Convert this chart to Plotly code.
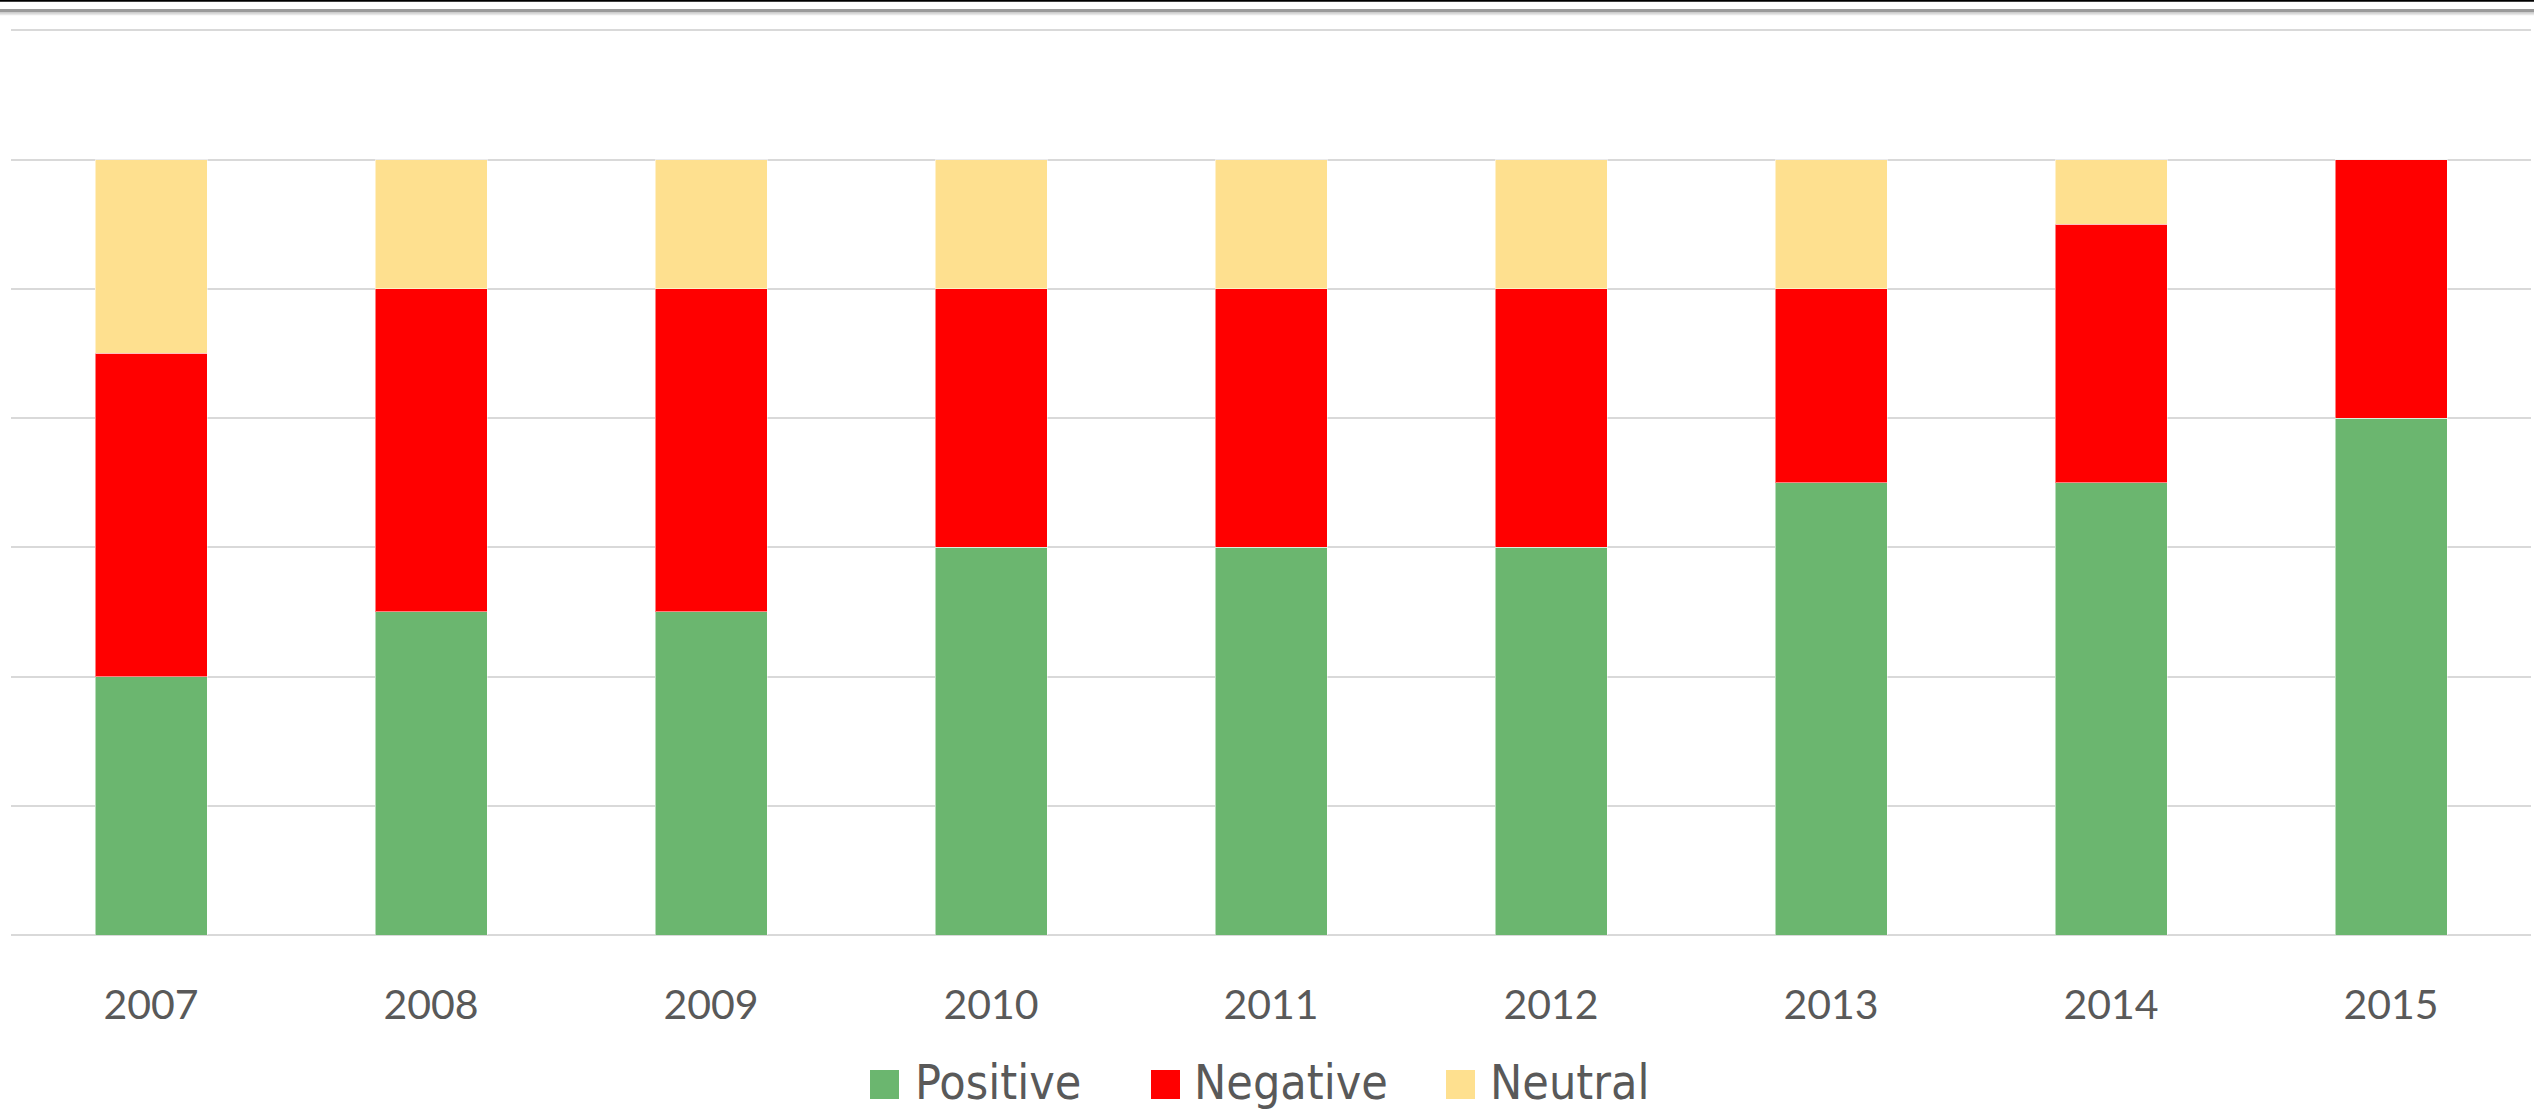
import plotly.graph_objects as go

# Yearly sentiment counts
years = ["2007", "2008", "2009", "2010", "2011", "2012", "2013", "2014", "2015"]
positive = [4, 5, 5, 6, 6, 6, 7, 7, 8]
negative = [5, 5, 5, 4, 4, 4, 3, 4, 4]
neutral = [3, 2, 2, 2, 2, 2, 2, 1, 0]

series_names = ["Positive", "Negative", "Neutral"]
series_colors = ["#6bb66f", "#ff0000", "#fee08f"]

W, H = 2534, 1110
ML, MR, MT, MB = 11, 3, 29, 175
PW, PH = W - ML - MR, H - MT - MB
Y_TOP = 14.02


def px_x(p):
    return (p - ML) / PW


def px_y(p):
    return (H - MB - p) / PH


fig = go.Figure()
for name, vals, col in zip(series_names, [positive, negative, neutral], series_colors):
    fig.add_trace(go.Bar(
        x=years, y=vals, name=name,
        marker=dict(color=col, line=dict(color="rgba(255,255,255,0.5)", width=1)),
        showlegend=False,
    ))

# Legend drawn as swatches + labels beneath the plot
legend_items = [
    ("Positive", series_colors[0], 870, 915),
    ("Negative", series_colors[1], 1151, 1194),
    ("Neutral", series_colors[2], 1446, 1490),
]
shapes = []
annotations = []
for label, col, sx, tx in legend_items:
    shapes.append(dict(
        type="rect", xref="paper", yref="paper",
        x0=px_x(sx), x1=px_x(sx + 29), y0=px_y(1070), y1=px_y(1099),
        fillcolor=col, line=dict(width=0),
    ))
    annotations.append(dict(
        text=label, xref="paper", yref="paper",
        x=px_x(tx - 2), y=px_y(1082), xanchor="left", yanchor="middle",
        showarrow=False,
        font=dict(family="DejaVu Sans Condensed, Liberation Sans Narrow, Roboto", size=48, color="#595959"),
    ))

# Rule with soft shadow across the top edge of the page
shapes.append(dict(type="line", xref="paper", yref="paper",
                   x0=px_x(0), x1=px_x(W), y0=px_y(0.8), y1=px_y(0.8),
                   line=dict(color="#000000", width=2)))
for yy, c in [(10, "#7a7a7a"), (11.5, "#9a9a9a"), (13, "#c4c4c4"), (14.5, "#e6e6e6")]:
    shapes.append(dict(type="line", xref="paper", yref="paper",
                       x0=px_x(0), x1=px_x(W), y0=px_y(yy), y1=px_y(yy),
                       line=dict(color=c, width=1.5)))

fig.update_layout(
    barmode="stack",
    bargap=0.6,
    width=W, height=H,
    margin=dict(l=ML, r=MR, t=MT, b=MB, pad=0),
    paper_bgcolor="white",
    plot_bgcolor="white",
    showlegend=False,
    shapes=shapes,
    annotations=annotations,
    xaxis=dict(
        type="category",
        showgrid=False, zeroline=False, showline=False,
        ticks="", ticklabelstandoff=42,
        tickfont=dict(family="Lato, Open Sans", size=41, color="#595959"),
    ),
    yaxis=dict(
        range=[0, Y_TOP], dtick=2, tick0=0,
        showgrid=True, gridcolor="#d9d9d9", gridwidth=2,
        zeroline=True, zerolinecolor="#d9d9d9", zerolinewidth=2,
        showticklabels=False, ticks="", showline=False,
    ),
)

fig.write_html("out.html")
